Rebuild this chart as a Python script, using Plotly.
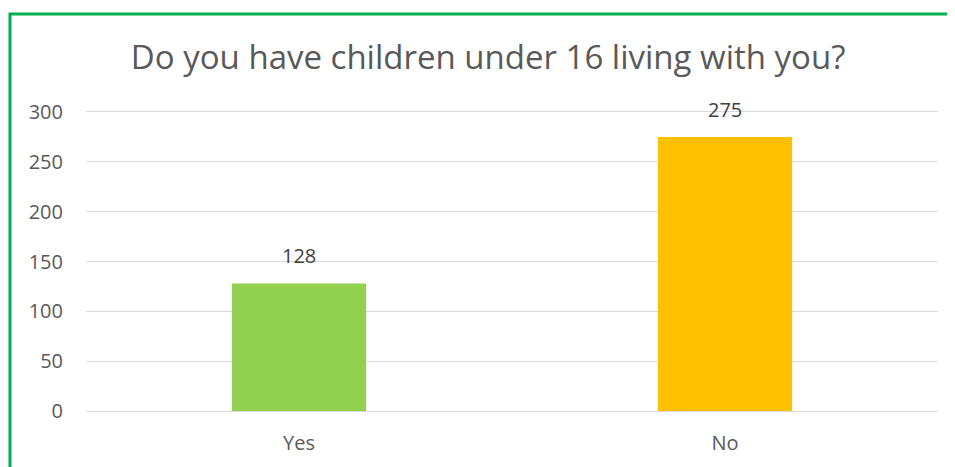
import plotly.graph_objects as go

categories = ["Yes", "No"]
values = [128, 275]
bar_colors = ["#92D050", "#FFC000"]
title_text = "Do you have children under 16 living with you?"
y_ticks = [0, 50, 100, 150, 200, 250, 300]

# page body has an 8px margin, so the figure is sized to fill the rest
W, H = 947, 459
L, R, T, B = 78, 17, 102, 55
pw, ph = W - L - R, H - T - B

def px_x(px):
    return (px - L) / pw

def px_y(py):
    return (H - B - py) / ph

fig = go.Figure()
fig.add_trace(go.Bar(
    x=categories, y=values,
    marker=dict(color=bar_colors, line=dict(width=0)),
    width=0.315,
    hoverinfo="x+y",
))

for c, v in zip(categories, values):
    fig.add_annotation(x=c, y=v, text=str(v), showarrow=False,
                       yanchor="bottom", yshift=12,
                       font=dict(family="Open Sans", size=20, color="#404040"))

fig.update_layout(
    width=W, height=H,
    margin=dict(l=L, r=R, t=T, b=B),
    paper_bgcolor="white", plot_bgcolor="white",
    showlegend=False,
    title=dict(text=title_text, x=0.507, xanchor="center", y=1 - 49 / H, yanchor="middle",
               font=dict(family="Open Sans", size=33, color="#595959")),
    xaxis=dict(showgrid=False, showline=False, ticks="", zeroline=False,
               ticklabelstandoff=17,
               tickfont=dict(family="Open Sans", size=20, color="#595959")),
    yaxis=dict(range=[-1, 302], tickvals=y_ticks, showgrid=True, gridcolor="#D9D9D9",
               gridwidth=1.3, zeroline=True, zerolinecolor="#D9D9D9", zerolinewidth=1.3,
               showline=False, ticks="",
               ticklabelstandoff=22,
               tickfont=dict(family="Open Sans", size=20, color="#595959")),
    shapes=[dict(type="rect", xref="paper", yref="paper",
                 x0=px_x(2), x1=px_x(1100), y0=px_y(700), y1=px_y(6),
                 line=dict(color="#00B050", width=3), fillcolor="rgba(0,0,0,0)", layer="above")],
)

fig.write_html("out.html")
